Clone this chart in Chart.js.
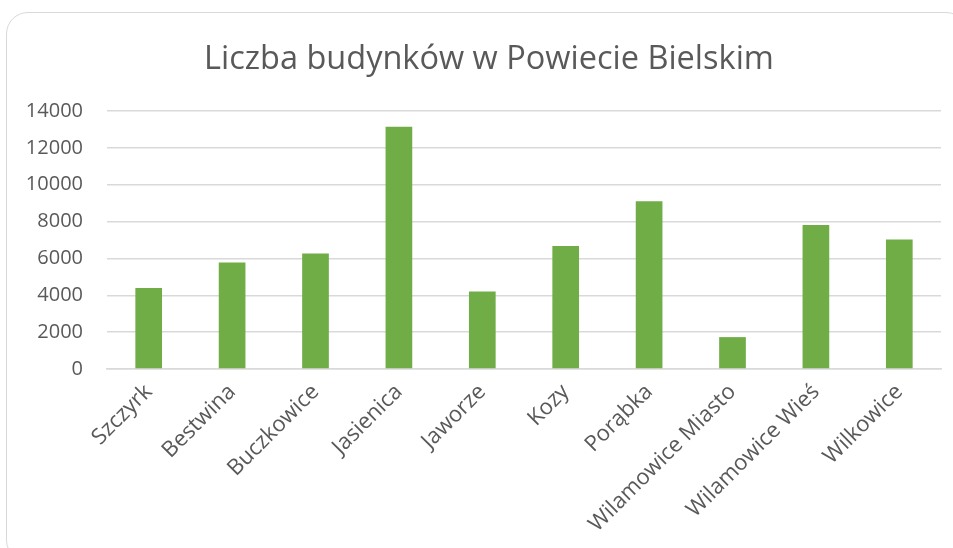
<!DOCTYPE html>
<html>
<head>
<meta charset="utf-8">
<script src="https://cdn.jsdelivr.net/npm/chart.js@4.4.1/dist/chart.umd.min.js"></script>
<style>
  html, body { margin: 0; padding: 0; background: #ffffff; overflow: hidden; }
  #wrap { position: relative; width: 953px; height: 548px; overflow: hidden; }
  #frame { position: absolute; left: 6px; top: 12px; width: 962px; height: 550px;
           border: 1.5px solid #d9d9d9; border-radius: 22px; box-sizing: border-box; }
  canvas { position: absolute; left: 0; top: 0; }
</style>
</head>
<body>
<div id="wrap">
  <div id="frame"></div>
  <canvas id="c" width="953" height="548"></canvas>
</div>
<script>
const titleText = 'Liczba budynków w Powiecie Bielskim';
const categories = ['Szczyrk', 'Bestwina', 'Buczkowice', 'Jasienica', 'Jaworze', 'Kozy', 'Porąbka', 'Wilamowice Miasto', 'Wilamowice Wieś', 'Wilkowice'];
const buildings = [4390, 5780, 6270, 13150, 4210, 6670, 9100, 1730, 7820, 7030];
const yTicks = [0, 2000, 4000, 6000, 8000, 10000, 12000, 14000];

const textColor = '#595959';
const gridColor = '#d9d9d9';
const barColor = '#70ad47';

const titleShift = {
  id: 'titleShift',
  afterLayout(chart) {
    const tb = chart.titleBlock;
    if (tb) { tb.left += 18.5; tb.right += 18.5; }
  }
};

new Chart(document.getElementById('c'), {
  type: 'bar',
  data: {
    labels: categories,
    datasets: [{
      label: 'Liczba budynków',
      data: buildings,
      backgroundColor: barColor,
      borderWidth: 0,
      categoryPercentage: 1.0,
      barPercentage: 0.32
    }]
  },
  plugins: [titleShift],
  options: {
    responsive: false,
    animation: false,
    layout: { padding: { left: 0, right: 12, top: 40, bottom: 0 } },
    plugins: {
      legend: { display: false },
      tooltip: { enabled: false },
      title: {
        display: true,
        text: titleText,
        color: textColor,
        font: { family: 'Open Sans', size: 32.5, weight: 'normal' },
        padding: { top: 0, bottom: 32 }
      }
    },
    scales: {
      x: {
        grid: { display: false, drawTicks: false },
        border: { display: true, color: gridColor, width: 1.5 },
        ticks: {
          color: textColor,
          font: { family: 'Open Sans', size: 22 },
          minRotation: 45,
          maxRotation: 45,
          autoSkip: false,
          padding: 10
        },
        afterFit(scale) { scale.height = 179; }
      },
      y: {
        min: 0,
        max: 14000,
        afterBuildTicks(scale) { scale.ticks = yTicks.map(v => ({ value: v })); },
        grid: { color: gridColor, lineWidth: 1.5, drawTicks: false },
        border: { display: false },
        ticks: {
          color: textColor,
          font: { family: 'Open Sans', size: 20 },
          padding: 24,
          callback: (v) => String(v)
        },
        afterFit(scale) { scale.width = 107; }
      }
    }
  }
});
</script>
</body>
</html>
